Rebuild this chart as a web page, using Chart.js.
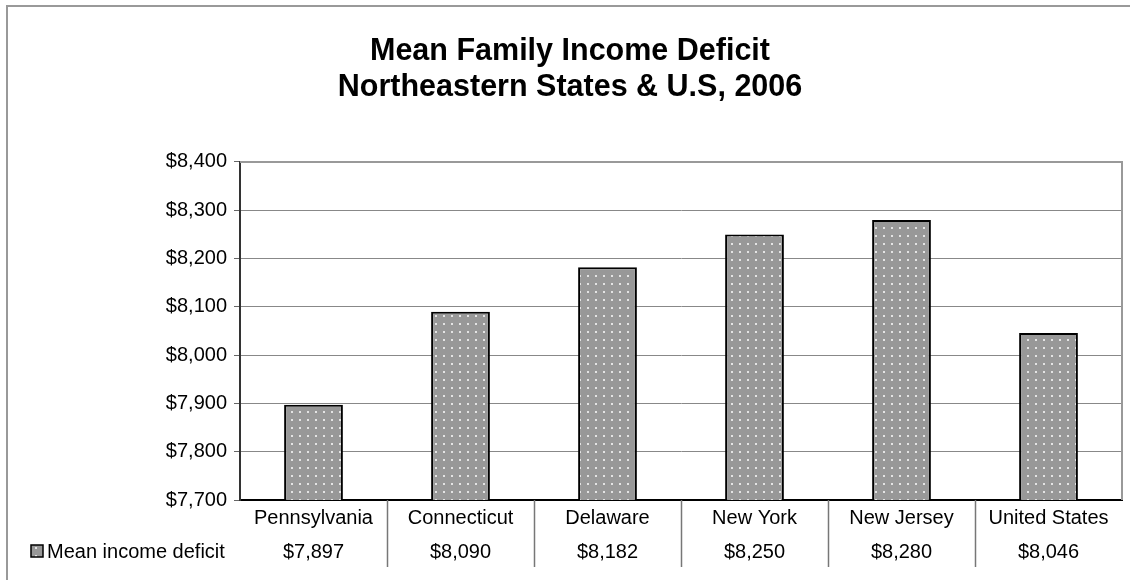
<!DOCTYPE html>
<html>
<head>
<meta charset="utf-8">
<title>Mean Family Income Deficit</title>
<script src="https://cdn.jsdelivr.net/npm/chart.js@4/dist/chart.umd.min.js"></script>
<style>
  html, body { margin: 0; padding: 0; background: #fff; }
  #wrap { width: 1130px; height: 580px; }
</style>
</head>
<body>
<div id="wrap"><canvas id="grafico"></canvas></div>
<script>
const estados = ['Pennsylvania', 'Connecticut', 'Delaware', 'New York', 'New Jersey', 'United States'];
const deficit = [7897, 8090, 8182, 8250, 8280, 8046];
const rotuloSerie = 'Mean income deficit';
const titulo = ['Mean Family Income Deficit', 'Northeastern States & U.S, 2006'];
const yMin = 7700;
const yMax = 8400;
const yPasso = 100;

const fonte = '"Liberation Sans", Arial, sans-serif';
const dinheiro = v => '$' + v.toLocaleString('en-US');

// gray fill with small light dots, like the spreadsheet pattern
function padraoPontos(ctx) {
    const tile = document.createElement('canvas');
    tile.width = 8;
    tile.height = 8;
    const t = tile.getContext('2d');
    t.fillStyle = '#989898';
    t.fillRect(0, 0, 8, 8);
    t.fillStyle = '#e4e4e4';
    t.fillRect(3, 3, 2, 2);
    return ctx.createPattern(tile, 'repeat');
}

// outer frame, plot border and the data table under the x axis
const tabelaDados = {
    id: 'tabelaDados',
    beforeDraw(chart) {
        const ctx = chart.ctx;
        ctx.save();
        ctx.strokeStyle = '#999';
        ctx.lineWidth = 2;
        ctx.beginPath();
        ctx.moveTo(7, 1200);
        ctx.lineTo(7, 6);
        ctx.lineTo(1300, 6);
        ctx.stroke();
        ctx.restore();
    },
    afterDraw(chart) {
        const ctx = chart.ctx;
        const area = chart.chartArea;
        const x = chart.scales.x;
        ctx.save();

        // top and right edges of the plot area
        ctx.strokeStyle = '#999';
        ctx.lineWidth = 2;
        ctx.beginPath();
        ctx.moveTo(area.left, area.top);
        ctx.lineTo(area.right, area.top);
        ctx.lineTo(area.right, area.bottom);
        ctx.stroke();

        // separators between the table columns
        ctx.strokeStyle = '#777';
        ctx.lineWidth = 1.5;
        const passo = (x.getPixelForValue(1) - x.getPixelForValue(0));
        for (let i = 1; i < estados.length; i++) {
            const px = Math.round(x.getPixelForValue(i) - passo / 2) + 0.5;
            ctx.beginPath();
            ctx.moveTo(px, area.bottom);
            ctx.lineTo(px, area.bottom + 67);
            ctx.stroke();
        }

        // values row
        ctx.fillStyle = '#000';
        ctx.font = '20px ' + fonte;
        ctx.textAlign = 'center';
        ctx.textBaseline = 'alphabetic';
        const linhaY = area.bottom + 58;
        deficit.forEach((v, i) => {
            ctx.fillText(dinheiro(v), x.getPixelForValue(i), linhaY);
        });

        // legend key in the table header cell
        ctx.fillStyle = padraoPontos(ctx);
        ctx.fillRect(31, linhaY - 13, 12, 12);
        ctx.strokeStyle = '#000';
        ctx.lineWidth = 1.5;
        ctx.strokeRect(31, linhaY - 13, 12, 12);
        ctx.fillStyle = '#000';
        ctx.textAlign = 'left';
        ctx.fillText(rotuloSerie, 47, linhaY);

        ctx.restore();
    }
};

const canvas = document.getElementById('grafico');
const ctx = canvas.getContext('2d');

new Chart(ctx, {
    type: 'bar',
    data: {
        labels: estados,
        datasets: [{
            label: rotuloSerie,
            data: deficit,
            backgroundColor: padraoPontos(ctx),
            borderColor: '#000',
            borderWidth: 2,
            borderSkipped: false,
            barPercentage: 0.4,
            categoryPercentage: 1
        }]
    },
    options: {
        responsive: true,
        maintainAspectRatio: false,
        animation: false,
        layout: {
            padding: { left: 18, right: 8, top: 0, bottom: 0 }
        },
        plugins: {
            legend: { display: false },
            tooltip: { enabled: false },
            title: {
                display: true,
                text: titulo,
                color: '#000',
                font: { family: fonte, size: 30.5, weight: 'bold', lineHeight: 1.18 },
                padding: { top: 34, bottom: 56 }
            }
        },
        scales: {
            x: {
                grid: { display: false },
                border: { color: '#000', width: 2 },
                ticks: {
                    color: '#000',
                    font: { family: fonte, size: 20 },
                    padding: -2,
                    maxRotation: 0,
                    autoSkip: false
                },
                afterFit(scale) { scale.height = 80; }
            },
            y: {
                min: yMin,
                max: yMax,
                grid: {
                    color: '#888',
                    lineWidth: 1,
                    tickLength: 6,
                    tickColor: '#666'
                },
                border: { color: '#333', width: 2 },
                ticks: {
                    stepSize: yPasso,
                    color: '#000',
                    font: { family: fonte, size: 20 },
                    padding: 7,
                    callback: v => dinheiro(v)
                },
                afterFit(scale) { scale.width = 222; }
            }
        }
    },
    plugins: [tabelaDados]
});
</script>
</body>
</html>
